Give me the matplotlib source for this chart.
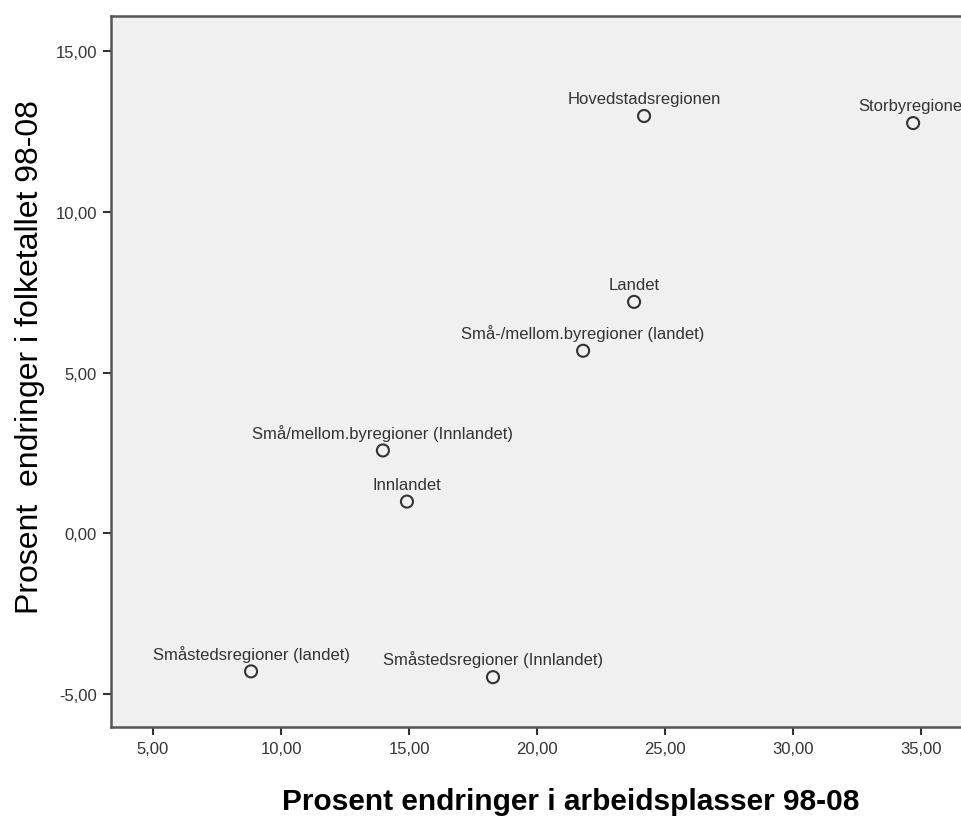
import matplotlib
matplotlib.use("Agg")
import matplotlib.pyplot as plt
from matplotlib.ticker import FuncFormatter

# data
regions = [
    "Hovedstadsregionen",
    "Storbyregioner",
    "Landet",
    "Små-/mellom.byregioner (landet)",
    "Små/mellom.byregioner (Innlandet)",
    "Innlandet",
    "Småstedsregioner (landet)",
    "Småstedsregioner (Innlandet)",
]
jobs_change = [24.18, 34.69, 23.79, 21.80, 13.98, 14.92, 8.83, 18.28]
pop_change = [12.98, 12.76, 7.20, 5.68, 2.58, 0.99, -4.29, -4.47]
x_ticks = [5, 10, 15, 20, 25, 30, 35]
y_ticks = [-5, 0, 5, 10, 15]

plt.rcParams["font.family"] = ["Liberation Sans", "DejaVu Sans"]

W, H = 961, 820
fig = plt.figure(figsize=(W / 100, H / 100), dpi=100)
left, right, top, bottom = 111, 961, 17, 728
ax = fig.add_axes([left / W, 1 - bottom / H, (right - left) / W, (bottom - top) / H])
ax.set_facecolor("#f0f0f0")

ax.scatter(jobs_change, pop_change, s=75, facecolors="none",
           edgecolors="#333333", linewidths=1.5, zorder=3)
for name, x, y in zip(regions, jobs_change, pop_change):
    ax.annotate(name, (x, y), xytext=(0, 7), textcoords="offset points",
                ha="center", va="bottom", fontsize=12, color="#333333",
                annotation_clip=False)

ax.set_xlim(3.36, 36.56)
ax.set_ylim(-6.02, 16.09)
ax.set_xticks(x_ticks)
ax.set_yticks(y_ticks)
fmt = FuncFormatter(lambda v, p: f"{v:.2f}".replace(".", ","))
ax.xaxis.set_major_formatter(fmt)
ax.yaxis.set_major_formatter(fmt)
ax.tick_params(direction="out", length=6, width=1.5, color="#333333",
               labelsize=12, labelcolor="#333333", pad=4)

for side in ["left", "bottom", "top"]:
    ax.spines[side].set_color("#555555")
    ax.spines[side].set_linewidth(1.8)
ax.spines["right"].set_visible(False)

fig.text(571 / W, 1 - 802 / H, "Prosent endringer i arbeidsplasser 98-08",
         ha="center", va="center", fontsize=21.5, fontweight="bold")
fig.text(30 / W, 1 - 357 / H, "Prosent  endringer i folketallet 98-08",
         ha="center", va="center", rotation=90, fontsize=23)

fig.savefig("out.png", dpi=100, facecolor="white")
